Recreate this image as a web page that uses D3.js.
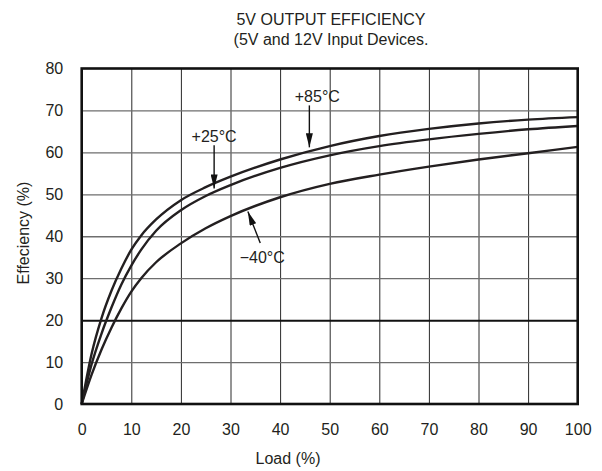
<!DOCTYPE html>
<html>
<head>
<meta charset="utf-8">
<script src="https://cdn.jsdelivr.net/npm/d3@7"></script>
<style>
  body { margin: 0; background: #fff; }
  text { font-family: "Liberation Sans", Arial, sans-serif; fill: #231f20; }
</style>
</head>
<body>
<svg id="chart" width="602" height="471"></svg>
<script>
// load (%) sample points
var loads = [0, 2, 4, 6, 8, 10, 12, 15, 20, 25, 30, 40, 50, 60, 70, 80, 90, 100];
var eff85 = [0, 12, 20.5, 27, 32.3, 36.8, 40.2, 44, 48.6, 51.7, 54.2, 58.3, 61.5, 63.9, 65.6, 66.9, 67.8, 68.4];
var eff25 = [0, 9.5, 16.8, 23, 28.5, 33, 36.8, 41.3, 46.2, 49.6, 52.2, 56.3, 59.3, 61.5, 63.1, 64.4, 65.5, 66.3];
var effM40 = [0, 7, 13, 18.2, 22.8, 26.8, 30, 33.8, 38.3, 41.9, 44.8, 49.3, 52.5, 54.7, 56.6, 58.3, 59.8, 61.3];

var xTicks = [0, 10, 20, 30, 40, 50, 60, 70, 80, 90, 100];
var yTicks = [0, 10, 20, 30, 40, 50, 60, 70, 80];
var titleLines = ["5V OUTPUT EFFICIENCY", "(5V and 12V Input Devices."];

var svg = d3.select("#chart"),
    margin = {top: 68.5, right: 24.3, bottom: 67, left: 81.7},
    width = +svg.attr("width") - margin.left - margin.right,
    height = +svg.attr("height") - margin.top - margin.bottom;

var x = d3.scaleLinear().domain([0, 100]).range([0, width]);
var y = d3.scaleLinear().domain([0, 80]).range([height, 0]);

var g = svg.append("g")
    .attr("transform", "translate(" + margin.left + "," + margin.top + ")");

// title
svg.selectAll("text.title")
    .data(titleLines)
  .enter().append("text")
    .attr("class", "title")
    .attr("x", 331)
    .attr("y", function(d, i) { return 24.5 + i * 20; })
    .attr("text-anchor", "middle")
    .style("font-size", "16px")
    .text(function(d) { return d; });

// grid, drawn with axes
var vGrid = g.append("g")
    .attr("class", "grid")
    .attr("transform", "translate(0," + height + ")")
    .call(d3.axisBottom(x).tickValues(xTicks.slice(1, -1)).tickSize(-height).tickFormat(""));
vGrid.select(".domain").remove();
vGrid.selectAll(".tick line")
    .attr("stroke", "#2a2a2a")
    .attr("stroke-width", 1);

var hGrid = g.append("g")
    .attr("class", "grid")
    .call(d3.axisLeft(y).tickValues(yTicks.slice(1, -1)).tickSize(-width).tickFormat(""));
hGrid.select(".domain").remove();
hGrid.selectAll(".tick line")
    .attr("stroke", function(d) { return d === 20 ? "#111" : "#6e6e6e"; })
    .attr("stroke-width", function(d) { return d === 20 ? 2 : 1.3; });

// axis labels
var xAxis = g.append("g")
    .attr("transform", "translate(0," + height + ")")
    .call(d3.axisBottom(x).tickValues(xTicks).tickSize(0).tickPadding(20));
var yAxis = g.append("g")
    .call(d3.axisLeft(y).tickValues(yTicks).tickSize(0).tickPadding(18.5));
[xAxis, yAxis].forEach(function(a) {
  a.select(".domain").remove();
  a.selectAll("text")
      .style("font-size", "16px")
      .style("font-family", "'Liberation Sans', Arial, sans-serif")
      .attr("fill", "#231f20");
});

svg.append("text")
    .attr("x", 288)
    .attr("y", 464)
    .attr("text-anchor", "middle")
    .style("font-size", "16px")
    .text("Load (%)");

svg.append("text")
    .attr("transform", "translate(29,233) rotate(-90)")
    .attr("text-anchor", "middle")
    .style("font-size", "16px")
    .text("Effeciency (%)");

// curves
var line = d3.line()
    .x(function(d) { return x(d[0]); })
    .y(function(d) { return y(d[1]); })
    .curve(d3.curveMonotoneX);

[eff85, eff25, effM40].forEach(function(s) {
  g.append("path")
      .datum(loads.map(function(l, i) { return [l, s[i]]; }))
      .attr("fill", "none")
      .attr("stroke", "#231f20")
      .attr("stroke-width", 2.4)
      .attr("d", line);
});

// frame
g.append("rect")
    .attr("width", width)
    .attr("height", height)
    .attr("fill", "none")
    .attr("stroke", "#111")
    .attr("stroke-width", 2.6);

// annotations: label position and arrow in data units
var notes = [
  {text: "+85\u00b0C", lx: 47.5, ly: 71.9, x1: 45.9, y1: 71.2, x2: 45.9, y2: 61.2},
  {text: "+25\u00b0C", lx: 26.7, ly: 62.5, x1: 26.7, y1: 61.7, x2: 26.7, y2: 51.4},
  {text: "\u221240\u00b0C", lx: 36.4, ly: 33.6, x1: 36, y1: 38.4, x2: 33.5, y2: 45.9}
];

svg.append("defs").append("marker")
    .attr("id", "arrow")
    .attr("viewBox", "0 0 14 7")
    .attr("refX", 14)
    .attr("refY", 3.5)
    .attr("markerUnits", "userSpaceOnUse")
    .attr("markerWidth", 14)
    .attr("markerHeight", 7)
    .attr("orient", "auto")
  .append("path")
    .attr("d", "M0,0 L14,3.5 L0,7 Z")
    .attr("fill", "#111");

notes.forEach(function(n) {
  g.append("text")
      .attr("x", x(n.lx))
      .attr("y", y(n.ly))
      .attr("text-anchor", "middle")
      .style("font-size", "16px")
      .text(n.text);
  g.append("line")
      .attr("x1", x(n.x1))
      .attr("y1", y(n.y1))
      .attr("x2", x(n.x2))
      .attr("y2", y(n.y2))
      .attr("stroke", "#111")
      .attr("stroke-width", 1.4)
      .attr("marker-end", "url(#arrow)");
});
</script>
</body>
</html>
